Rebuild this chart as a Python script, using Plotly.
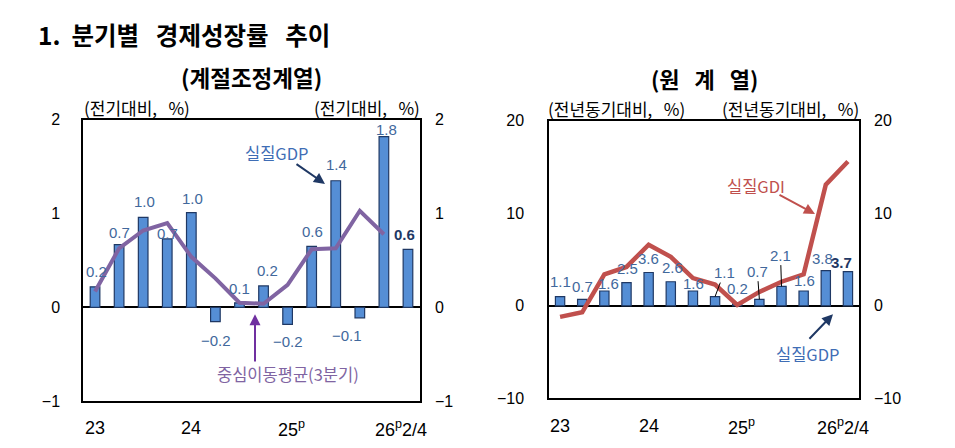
import plotly.graph_objects as go

# 계절조정계열 (전기대비, %)
q_idx = list(range(14))
gdp_sa = [0.22, 0.67, 0.96, 0.73, 1.01, -0.15, 0.05, 0.23, -0.18, 0.65, 1.35, -0.11, 1.82, 0.62]
gdp_sa_labels = ["0.2", "0.7", "1.0", "0.7", "1.0", "−0.2", "0.1", "0.2", "−0.2", "0.6", "1.4", "−0.1", "1.8", "0.6"]
ma3 = [0.17, 0.63, 0.82, 0.90, 0.54, 0.31, 0.05, 0.04, 0.24, 0.62, 0.63, 1.03, 0.78]

# 원계열 (전년동기대비, %)
gdp_yoy = [1.0, 0.7, 1.6, 2.5, 3.6, 2.6, 1.6, 1.0, 0.2, 0.7, 2.1, 1.6, 3.8, 3.7]
gdp_yoy_labels = ["1.1", "0.7", "1.6", "2.5", "3.6", "2.6", "1.6", "1.1", "0.2", "0.7", "2.1", "1.6", "3.8", "3.7"]
gdi_yoy = [-1.2, -0.7, 3.4, 4.2, 6.6, 5.3, 3.0, 2.3, 0.1, 1.5, 2.6, 3.4, 13.1, 15.6]

x_labels = {0: "23", 4: "24", 8: "25<sup>p</sup>", 12: "26<sup>p</sup>2/4"}

W, H = 955, 448
# the page comes out slightly squeezed vertically, so target positions are pre-stretched
SY, OY = 0.96, 7.5
BAR = "#558ED5"
BAR_LINE = "#1F3864"
LBL = "#41689C"
NAVY = "#1F3864"
PURPLE = "#8064A2"
RED = "#C0504D"
KR = "Noto Sans CJK KR"
NUM = "Liberation Sans"
NB = "\u00a0"


def px(x):
    return x / W


def py(y):
    return 1 - (y - OY) / SY / H


fig = go.Figure()

fig.add_trace(go.Bar(x=q_idx, y=gdp_sa, width=0.4, marker=dict(color=BAR, line=dict(color=BAR_LINE, width=1.2)),
                     xaxis="x", yaxis="y", showlegend=False))
fig.add_trace(go.Scatter(x=q_idx[:len(ma3)], y=ma3, mode="lines", line=dict(color=PURPLE, width=4),
                         xaxis="x", yaxis="y", showlegend=False))
fig.add_trace(go.Bar(x=q_idx, y=gdp_yoy, width=0.42, marker=dict(color=BAR, line=dict(color=BAR_LINE, width=1.2)),
                     xaxis="x2", yaxis="y3", showlegend=False))
fig.add_trace(go.Scatter(x=q_idx, y=gdi_yoy, mode="lines", line=dict(color=RED, width=4.5),
                         xaxis="x2", yaxis="y3", showlegend=False))
# dummy traces so the right-hand axes render
fig.add_trace(go.Scatter(x=[None], y=[None], xaxis="x", yaxis="y2", showlegend=False))
fig.add_trace(go.Scatter(x=[None], y=[None], xaxis="x2", yaxis="y4", showlegend=False))

ax_common = dict(showgrid=False, showline=True, linecolor="black", linewidth=1.5, mirror=True,
                 ticks="", tickfont=dict(family=NUM, size=16, color="black"))

fig.update_layout(
    width=W, height=H,
    margin=dict(l=0, r=0, t=0, b=0),
    paper_bgcolor="white", plot_bgcolor="white",
    xaxis=dict(domain=[px(83), px(420)], range=[-0.5, 13.5], showticklabels=False, anchor="y", **ax_common),
    yaxis=dict(domain=[py(400), py(119)], range=[-1, 2], dtick=1, zeroline=True, zerolinecolor="black",
               zerolinewidth=1.5, ticklabelstandoff=18, anchor="x", **ax_common),
    yaxis2=dict(overlaying="y", side="right", range=[-1, 2], dtick=1, showgrid=False, zeroline=False,
                showline=False, ticks="", ticklabelstandoff=14, anchor="x",
                tickfont=dict(family=NUM, size=16, color="black")),
    xaxis2=dict(domain=[px(549), px(859)], range=[-0.5, 13.5], showticklabels=False, anchor="y3", **ax_common),
    yaxis3=dict(domain=[py(397), py(120)], range=[-10, 20], dtick=10, zeroline=True, zerolinecolor="black",
                zerolinewidth=1.5, ticklabelstandoff=20, anchor="x2", **ax_common),
    yaxis4=dict(overlaying="y3", side="right", range=[-10, 20], dtick=10, showgrid=False, zeroline=False,
                showline=False, ticks="", ticklabelstandoff=14, anchor="x2",
                tickfont=dict(family=NUM, size=16, color="black")),
)

ann = []

# titles
title = "1." + NB * 2 + "분기별" + NB * 3 + "경제성장률" + NB * 3 + "추이"
ann.append(dict(text=f"<b>{title}</b>", x=px(36), y=py(34), xanchor="left",
                font=dict(family=KR, size=24.5, color="black")))
ann.append(dict(text="<b>(계절조정계열)</b>", x=px(251), y=py(76), font=dict(family=KR, size=22.5, color="black")))
ann.append(dict(text="<b>(원" + NB * 3 + "계" + NB * 3 + "열)</b>", x=px(704), y=py(77),
                font=dict(family=KR, size=22, color="black")))

unit_font = dict(family=KR, size=17, color="black")
unit_sa = "(전기대비," + NB * 3 + "%)"
unit_yoy = "(전년동기대비," + NB * 3 + "%)"
ann.append(dict(text=unit_sa, x=px(82), y=py(107), xanchor="left", font=unit_font))
ann.append(dict(text=unit_sa, x=px(422), y=py(107), xanchor="right", font=unit_font))
ann.append(dict(text=unit_yoy, x=px(546), y=py(108), xanchor="left", font=unit_font))
ann.append(dict(text=unit_yoy, x=px(861), y=py(108), xanchor="right", font=unit_font))

# x-axis labels
for xr, yref_y in (("x", 427), ("x2", 425)):
    for i, t in x_labels.items():
        xs = 0
        anchor = "center"
        if i == 8:
            xs = 4
        if i == 12:
            anchor = "left"
            xs = -11
        ann.append(dict(text=t, x=i, xref=xr, y=py(yref_y), yref="paper", xanchor=anchor, xshift=xs,
                        font=dict(family=NUM, size=18, color="black")))

# data labels, left chart
left_dx = [1, 0, 1, 0, 1, 1, 0, 4, 0, 1, 1, -13, 3, -3]
left_dy = [15, 12, 15, 5, 14, -18, 14, 15, -16, 14, 16, -17, 7, 14]
for i, (v, t) in enumerate(zip(gdp_sa, gdp_sa_labels)):
    last = i == len(gdp_sa) - 1
    ann.append(dict(text=f"<b>{t}</b>" if last else t, x=i, y=v, xref="x", yref="y",
                    xshift=left_dx[i], yshift=left_dy[i] / SY,
                    font=dict(family=NUM, size=15, color=NAVY if last else LBL)))

# data labels, right chart
right_dx = [0, 0, 4, 1, 0, 2, 1, 9, 0, -2, -1, 1, -3, -6]
right_dy = [14, 12, 7, 14, 13, 14, 7, 23, 15, 27, 30, 10, 12, 9]
leaders = {7, 9, 10}
for i, (v, t) in enumerate(zip(gdp_yoy, gdp_yoy_labels)):
    last = i == len(gdp_yoy) - 1
    f = dict(family=NUM, size=15, color=NAVY if last else LBL)
    txt = f"<b>{t}</b>" if last else t
    if i in leaders:
        ann.append(dict(text=txt, x=i, y=v, xref="x2", yref="y3", showarrow=True, arrowhead=0,
                        arrowwidth=1, arrowcolor="black", ax=right_dx[i], ay=-right_dy[i] / SY, font=f))
    else:
        ann.append(dict(text=txt, x=i, y=v, xref="x2", yref="y3", xshift=right_dx[i],
                        yshift=right_dy[i] / SY, font=f))

# callouts
ann.append(dict(text="실질GDP", x=px(277), y=py(152), font=dict(family=KR, size=16.5, color="#3F6DB5")))
ann.append(dict(text="", x=px(325), y=py(183), showarrow=True, arrowhead=2, arrowsize=1.1, arrowwidth=2,
                arrowcolor=NAVY, ax=-30, ay=-20 / SY))
ann.append(dict(text="중심이동평균(3분기)", x=px(288), y=py(373), font=dict(family=KR, size=16.5, color=PURPLE)))
ann.append(dict(text="", x=px(255), y=py(313), showarrow=True, arrowhead=2, arrowsize=1.1, arrowwidth=2,
                arrowcolor="#7030A0", ax=0, ay=47 / SY))
ann.append(dict(text="실질GDI", x=px(756), y=py(185), font=dict(family=KR, size=16.5, color=RED)))
ann.append(dict(text="", x=px(815), y=py(213), showarrow=True, arrowhead=2, arrowsize=1.1, arrowwidth=2,
                arrowcolor=RED, ax=-37, ay=-19 / SY))
ann.append(dict(text="실질GDP", x=px(808), y=py(353), font=dict(family=KR, size=16.5, color="#3F6DB5")))
ann.append(dict(text="", x=px(833), y=py(313), showarrow=True, arrowhead=2, arrowsize=1.1, arrowwidth=2,
                arrowcolor=NAVY, ax=-25, ay=25 / SY))

for a in ann:
    a.setdefault("xref", "paper")
    a.setdefault("yref", "paper")
    a.setdefault("showarrow", False)
    a.setdefault("xanchor", "center")
    a.setdefault("yanchor", "middle")

fig.update_layout(annotations=ann)

fig.write_html("out.html", config={"displayModeBar": False},
               post_script="document.body.style.margin='0';document.body.style.overflow='hidden';")
